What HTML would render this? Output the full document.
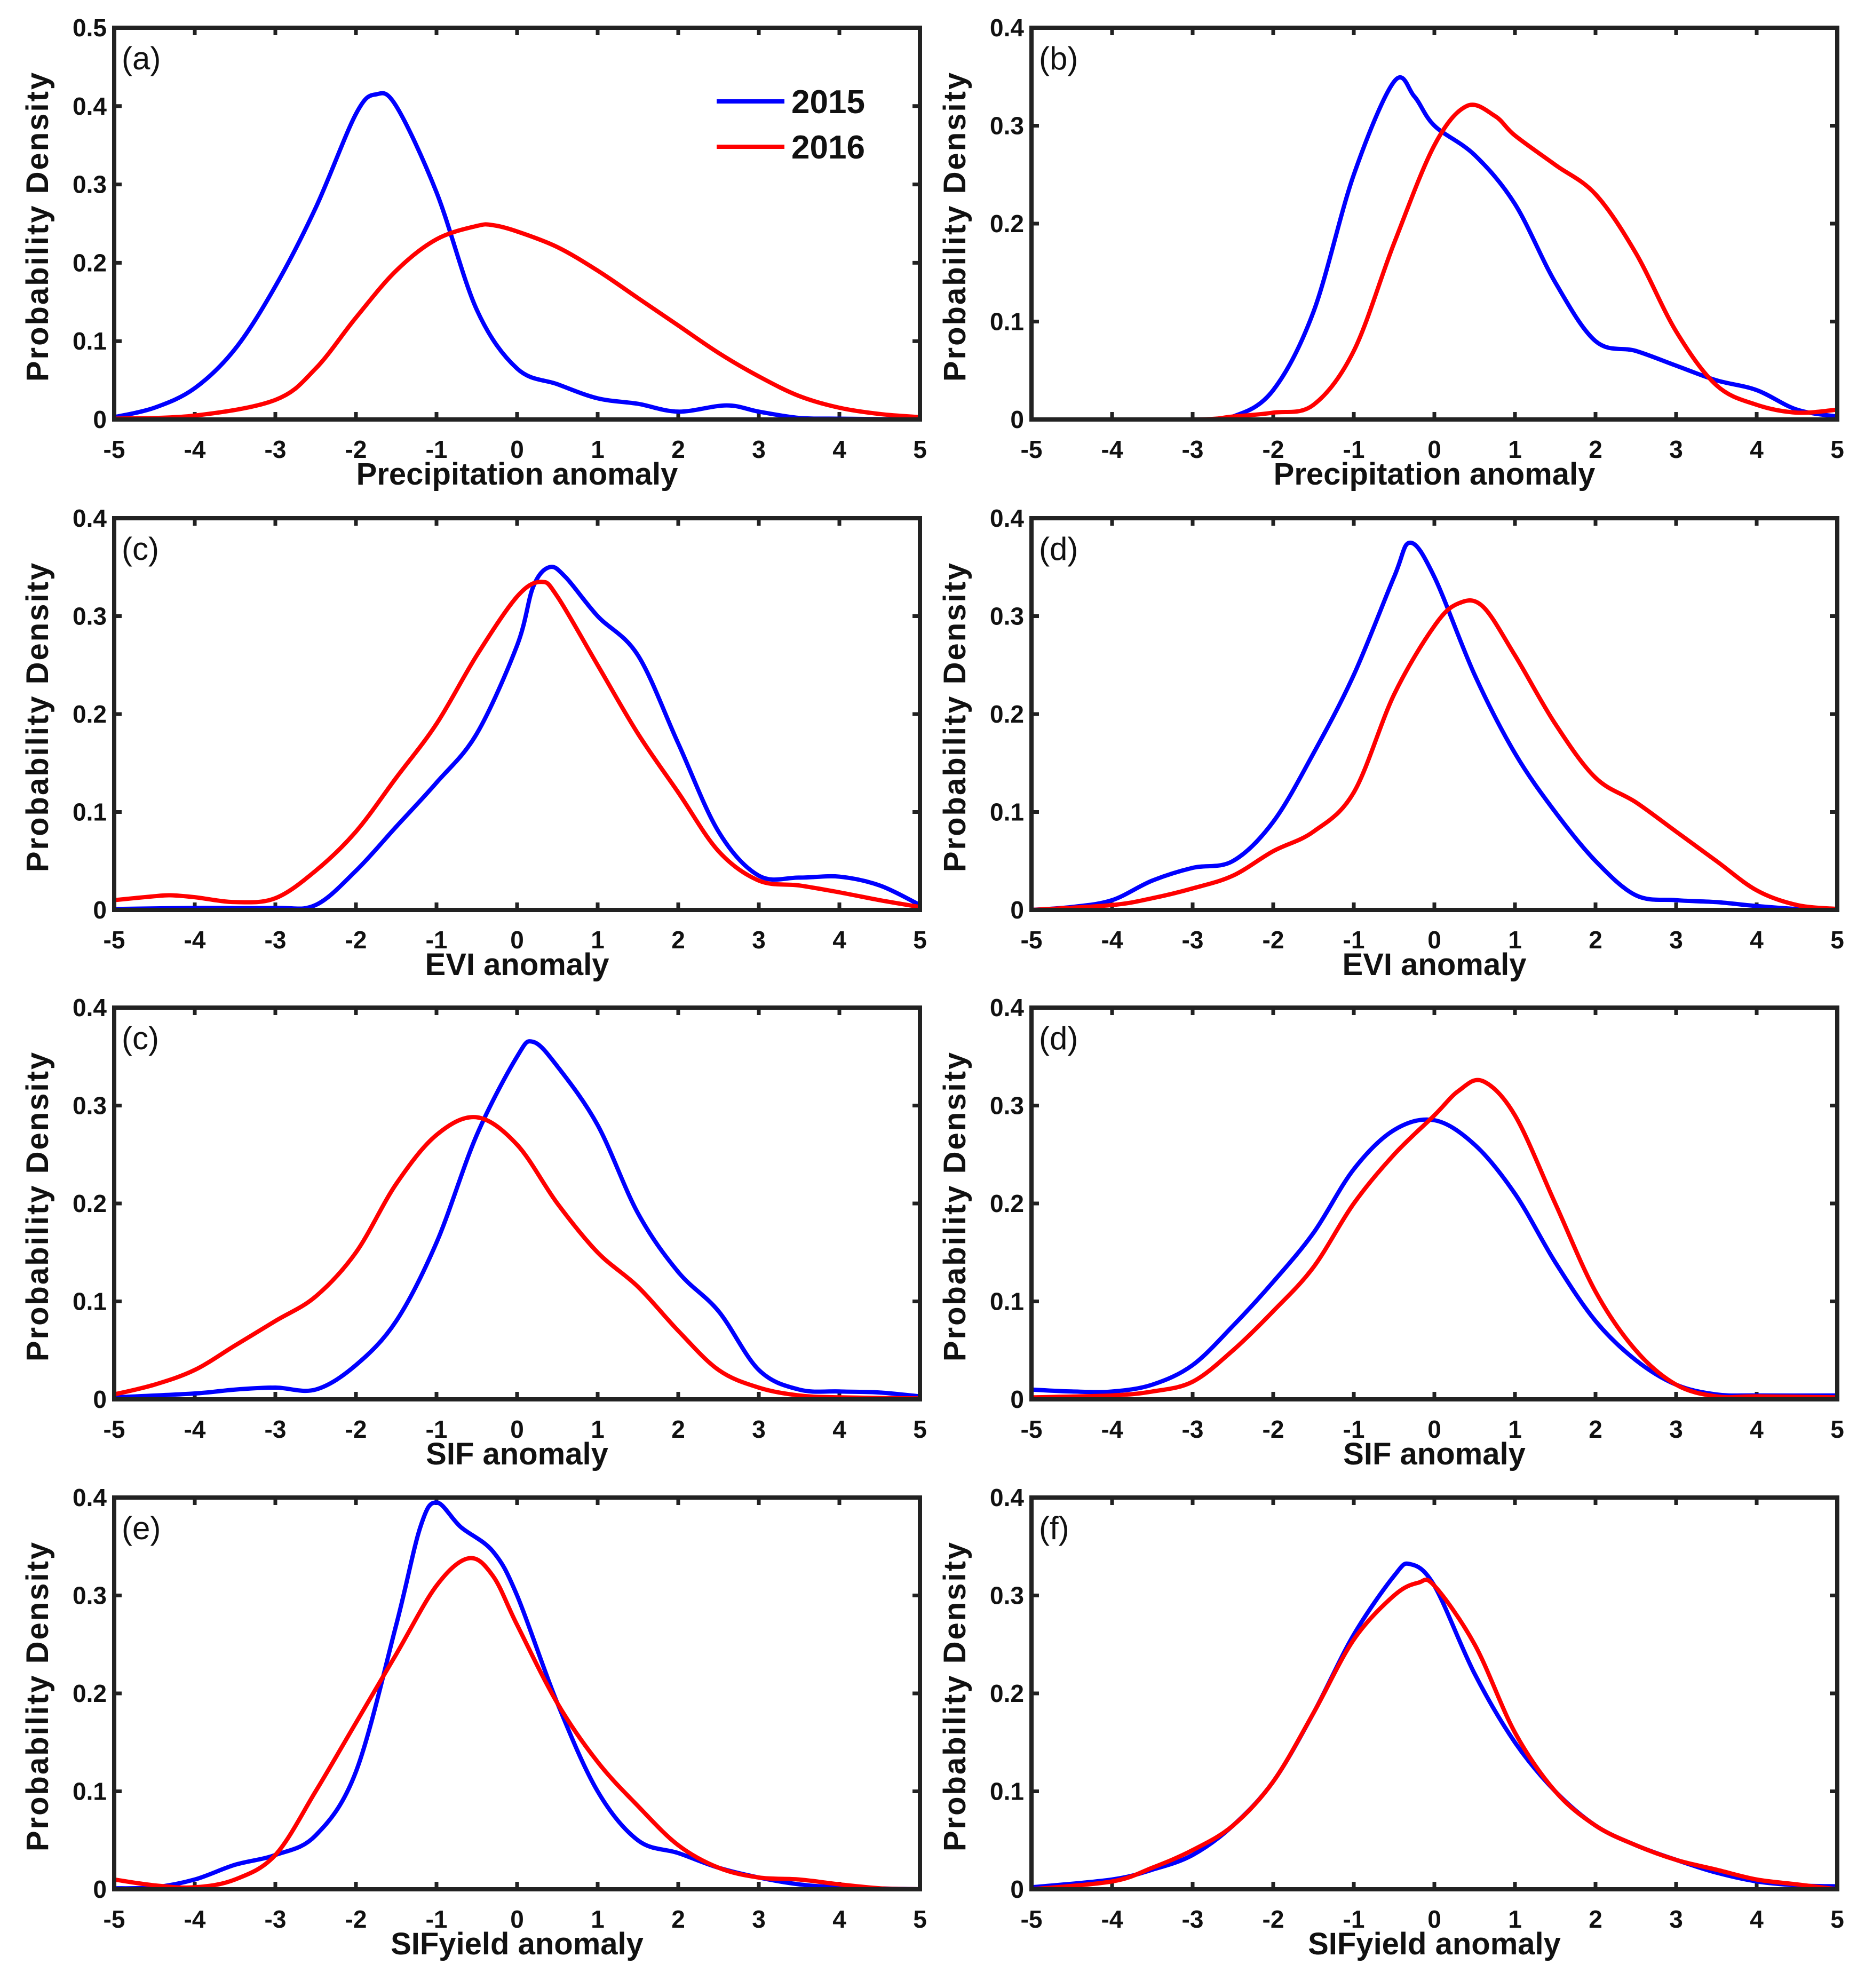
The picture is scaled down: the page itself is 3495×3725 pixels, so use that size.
<!DOCTYPE html>
<html><head><meta charset="utf-8"><style>
html,body{margin:0;padding:0;background:#fff;}
svg{display:block;font-family:"Liberation Sans",Arial,sans-serif;}
</style></head><body>
<svg id="fig" width="3495" height="3725" viewBox="0 0 3495 3725" xmlns="http://www.w3.org/2000/svg"></svg>
<script>
// ---- data ----
const panelTags = ["(a)","(b)","(c)","(d)","(c)","(d)","(e)","(f)"];
const panelXLabels = ["Precipitation anomaly","Precipitation anomaly","EVI anomaly","EVI anomaly","SIF anomaly","SIF anomaly","SIFyield anomaly","SIFyield anomaly"];
const panelYMax = [0.5,0.4,0.4,0.4,0.4,0.4,0.4,0.4];
const xTicks = [-5,-4,-3,-2,-1,0,1,2,3,4,5];
const seriesNames = ["2015","2016"];
const seriesColors = ["#0000ff","#ff0000"];

const aBlueX=[-5,-4.5,-4,-3.5,-3,-2.5,-2,-1.75,-1.5,-1,-0.5,0,0.5,1,1.5,2,2.6,3,3.5,4,5];
const aBlueY=[0.003,0.015,0.04,0.09,0.17,0.27,0.39,0.415,0.40,0.29,0.14,0.065,0.045,0.027,0.02,0.01,0.018,0.01,0.002,0.001,0.0];
const aRedX=[-5,-4,-3,-2.5,-2,-1.5,-1,-0.5,-0.3,0,0.5,1,1.5,2,2.5,3,3.5,4,4.5,5];
const aRedY=[0.001,0.005,0.025,0.065,0.13,0.19,0.23,0.247,0.248,0.24,0.22,0.19,0.155,0.12,0.085,0.055,0.03,0.015,0.007,0.003];

const bBlueX=[-5,-3,-2.5,-2,-1.5,-1,-0.5,-0.25,0,0.5,1,1.5,2,2.5,3,3.5,4,4.5,5];
const bBlueY=[0,0,0.003,0.03,0.11,0.25,0.345,0.33,0.30,0.27,0.22,0.14,0.08,0.07,0.055,0.04,0.03,0.01,0.003];
const bRedX=[-5,-3,-2.5,-2,-1.5,-1,-0.5,0,0.4,0.75,1,1.5,2,2.5,3,3.5,4,4.5,5];
const bRedY=[0,0,0.003,0.007,0.015,0.07,0.18,0.28,0.32,0.31,0.29,0.26,0.23,0.17,0.09,0.035,0.015,0.007,0.01];

const cBlueX=[-5,-4,-3,-2.5,-2,-1.5,-1,-0.5,0,0.2,0.4,0.6,1,1.5,2,2.5,3,3.5,4,4.5,5];
const cBlueY=[0.001,0.002,0.002,0.005,0.04,0.085,0.13,0.18,0.27,0.33,0.35,0.34,0.30,0.26,0.17,0.08,0.035,0.033,0.034,0.025,0.005];
const cRedX=[-5,-4.5,-4.3,-4,-3.5,-3,-2.5,-2,-1.5,-1,-0.5,0,0.3,0.5,1,1.5,2,2.5,3,3.5,4,4.5,5];
const cRedY=[0.01,0.014,0.015,0.013,0.008,0.012,0.04,0.08,0.135,0.19,0.26,0.32,0.335,0.32,0.25,0.18,0.12,0.06,0.03,0.025,0.018,0.01,0.003];

const dBlueX=[-5,-4.5,-4,-3.5,-3,-2.5,-2,-1.5,-1,-0.5,-0.3,0,0.5,1,1.5,2,2.5,3,3.5,4,4.5,5];
const dBlueY=[0,0.003,0.01,0.03,0.043,0.05,0.09,0.16,0.24,0.34,0.375,0.34,0.24,0.16,0.1,0.05,0.015,0.01,0.008,0.004,0.001,0];
const dRedX=[-5,-4,-3.5,-3,-2.5,-2,-1.5,-1,-0.5,0,0.3,0.6,1,1.5,2,2.5,3,3.5,4,4.5,5];
const dRedY=[0,0.005,0.012,0.022,0.035,0.06,0.08,0.12,0.22,0.29,0.313,0.31,0.26,0.19,0.135,0.11,0.08,0.05,0.02,0.005,0.001];

const eBlueX=[-5,-4,-3.5,-3,-2.5,-2,-1.5,-1,-0.5,0,0.2,0.5,1,1.5,2,2.5,3,3.5,4,4.5,5];
const eBlueY=[0.002,0.006,0.01,0.012,0.01,0.035,0.08,0.16,0.27,0.35,0.365,0.34,0.28,0.19,0.13,0.09,0.03,0.01,0.008,0.007,0.003];
const eRedX=[-5,-4.5,-4,-3.5,-3,-2.5,-2,-1.5,-1,-0.5,0,0.5,1,1.5,2,2.5,3,3.5,4,5];
const eRedY=[0.005,0.015,0.03,0.055,0.08,0.105,0.15,0.22,0.27,0.288,0.26,0.2,0.15,0.115,0.07,0.03,0.012,0.004,0.002,0.001];

const fBlueX=[-5,-4.5,-4,-3.5,-3,-2.5,-2,-1.5,-1,-0.5,0,0.5,1,1.5,2,2.5,3,3.5,4,5];
const fBlueY=[0.01,0.008,0.008,0.015,0.035,0.075,0.12,0.17,0.235,0.275,0.285,0.26,0.21,0.14,0.08,0.04,0.015,0.005,0.004,0.004];
const fRedX=[-5,-4,-3.5,-3,-2.5,-2,-1.5,-1,-0.5,0,0.3,0.6,1,1.5,2,2.5,3,3.5,4,5];
const fRedY=[0.002,0.004,0.008,0.018,0.05,0.09,0.135,0.2,0.25,0.29,0.315,0.325,0.29,0.2,0.11,0.05,0.015,0.003,0.003,0.002];

const gBlueX=[-5,-4.5,-4,-3.5,-3,-2.5,-2,-1.5,-1.2,-1,-0.7,-0.3,0,0.5,1,1.5,2,2.5,3,3.5,4,5];
const gBlueY=[0.001,0.002,0.01,0.025,0.035,0.055,0.12,0.27,0.37,0.395,0.37,0.345,0.3,0.19,0.1,0.05,0.037,0.022,0.012,0.005,0.002,0];
const gRedX=[-5,-4.5,-4,-3.5,-3,-2.5,-2,-1.5,-1,-0.6,-0.3,0,0.5,1,1.5,2,2.5,3,3.5,4,4.5,5];
const gRedY=[0.01,0.004,0.002,0.01,0.035,0.1,0.17,0.24,0.31,0.338,0.32,0.27,0.19,0.13,0.085,0.045,0.022,0.012,0.01,0.005,0.001,0];

const hBlueX=[-5,-4,-3.5,-3,-2.5,-2,-1.5,-1,-0.5,-0.3,0,0.5,1,1.5,2,2.5,3,3.5,4,4.5,5];
const hBlueY=[0.002,0.01,0.02,0.035,0.065,0.11,0.18,0.26,0.32,0.332,0.31,0.22,0.15,0.1,0.065,0.045,0.03,0.017,0.008,0.004,0.003];
const hRedX=[-5,-4,-3.5,-3,-2.5,-2,-1.5,-1,-0.5,-0.2,0,0.5,1,1.5,2,2.5,3,3.5,4,4.5,5];
const hRedY=[0,0.008,0.022,0.04,0.065,0.11,0.18,0.255,0.3,0.313,0.31,0.25,0.16,0.1,0.065,0.045,0.03,0.02,0.01,0.005,0];

const panelBlueX=[aBlueX,bBlueX,cBlueX,dBlueX,eBlueX,fBlueX,gBlueX,hBlueX];
const panelBlueY=[aBlueY,bBlueY,cBlueY,dBlueY,eBlueY,fBlueY,gBlueY,hBlueY];
const panelRedX=[aRedX,bRedX,cRedX,dRedX,eRedX,fRedX,gRedX,hRedX];
const panelRedY=[aRedY,bRedY,cRedY,dRedY,eRedY,fRedY,gRedY,hRedY];

// ---- layout ----
const NS="http://www.w3.org/2000/svg";
const svg=document.getElementById('fig');
const colLeft=[214,1933], colW=1510;
const rowTop=[52,971,1888,2806], rowH=734;
function mk(tag,attrs,parent){const e=document.createElementNS(NS,tag);for(const k in attrs)e.setAttribute(k,attrs[k]);(parent||svg).appendChild(e);return e;}
function fmt(v){return v===0?"0":v.toFixed(1);}
function catmull(pts){
  let d="M"+pts[0][0].toFixed(1)+","+pts[0][1].toFixed(1);
  for(let i=0;i<pts.length-1;i++){
    const p0=pts[Math.max(0,i-1)],p1=pts[i],p2=pts[i+1],p3=pts[Math.min(pts.length-1,i+2)];
    const c1=[p1[0]+(p2[0]-p0[0])/6,p1[1]+(p2[1]-p0[1])/6];
    const c2=[p2[0]-(p3[0]-p1[0])/6,p2[1]-(p3[1]-p1[1])/6];
    d+="C"+c1[0].toFixed(1)+","+c1[1].toFixed(1)+" "+c2[0].toFixed(1)+","+c2[1].toFixed(1)+" "+p2[0].toFixed(1)+","+p2[1].toFixed(1);
  }
  return d;
}
for(let p=0;p<8;p++){
  const L=colLeft[p%2], T=rowTop[Math.floor(p/2)], R=L+colW, B=T+rowH;
  const ymax=panelYMax[p];
  const sx=v=>L+(v+5)/10*colW;
  const sy=v=>B-v/ymax*rowH;
  const g=mk('g',{});
  
  
  const cp=mk('clipPath',{id:'clip'+p},g);
  mk('rect',{x:L,y:T,width:colW,height:rowH},cp);
  for(const t of xTicks){
    const x=sx(t);
    const tk=mk('path',{d:`M${x},${B}v-14M${x},${T}v14`,stroke:'#222',"stroke-width":7},g);
    
    
    const lb=mk('text',{x:x,y:B+72,"text-anchor":"middle","font-size":46,"font-weight":"bold",fill:'#111'},g);
    lb.textContent=t;
    
    
  }
  const nY=Math.round(ymax/0.1);
  for(let i=0;i<=nY;i++){
    const v=i*0.1, y=sy(v);
    const tk=mk('path',{d:`M${L},${y}h14M${R},${y}h-14`,stroke:'#222',"stroke-width":7},g);
    
    
    const lb=mk('text',{x:L-14,y:y+16,"text-anchor":"end","font-size":46,"font-weight":"bold",fill:'#111'},g);
    lb.textContent=fmt(v);
    
    
  }
  const sets=[[panelBlueX[p],panelBlueY[p]],[panelRedX[p],panelRedY[p]]];
  sets.forEach((s,k)=>{
    const pts=s[0].map((xv,i)=>[sx(xv),sy(s[1][i])]);
    const path=mk('path',{d:catmull(pts),fill:'none',stroke:seriesColors[k],"stroke-width":8,"stroke-linejoin":"round","clip-path":`url(#clip${p})`},g);
    
    
  });
  const fr=mk('rect',{x:L,y:T,width:colW,height:rowH,fill:'none',stroke:'#222',"stroke-width":8},g);
  
  
  const tg=mk('text',{x:L+14,y:T+78,"font-size":60,fill:'#111'},g);
  tg.textContent=panelTags[p];
  
  
  const xl=mk('text',{x:(L+R)/2,y:B+122,"text-anchor":"middle","font-size":58,"font-weight":"bold",fill:'#111'},g);
  xl.textContent=panelXLabels[p];
  
  
  const yx=L-124, yy=(T+B)/2+5;
  const yl=mk('text',{x:yx,y:yy,"text-anchor":"middle","font-size":58,"font-weight":"bold","letter-spacing":3,fill:'#111',transform:`rotate(-90 ${yx} ${yy})`},g);
  yl.textContent="Probability Density";
  
  
  if(p===0){
    const lg=mk('g',{},g);
    
    
    [190,275].forEach((yv,k)=>{
      const ln=mk('line',{x1:1343,x2:1470,y1:yv,y2:yv,stroke:seriesColors[k],"stroke-width":8},lg);
      
      
      const tx=mk('text',{x:1483,y:yv+22,"font-size":62,"font-weight":"bold",fill:'#111'},lg);
      tx.textContent=seriesNames[k];
      
      
    });
  }
}
</script>
</body></html>
